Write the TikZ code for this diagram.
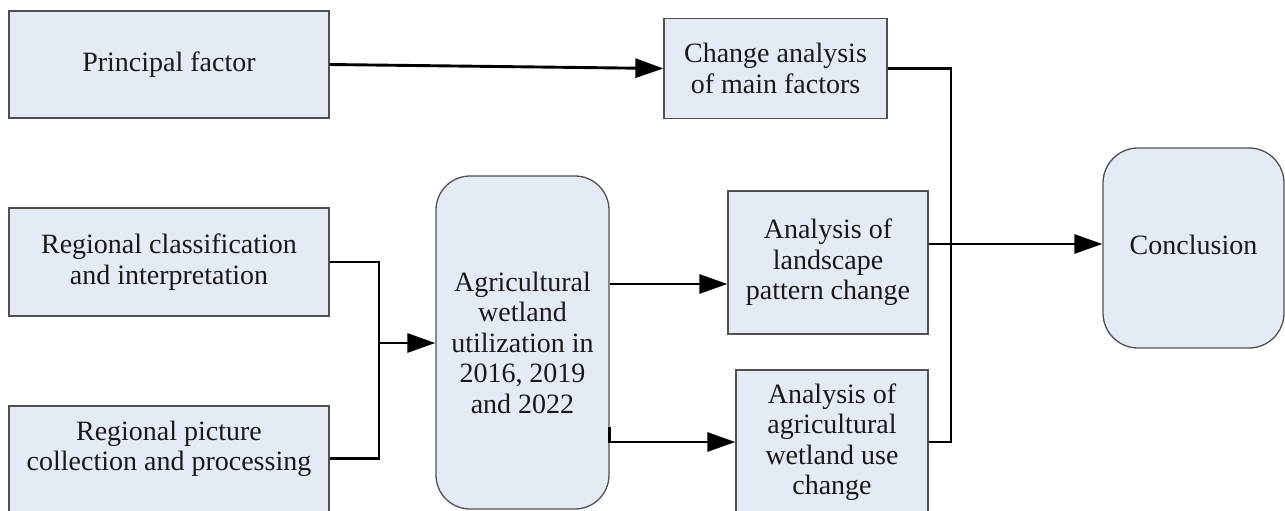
\documentclass[tikz,border=0pt]{standalone}
\usepackage{fontspec}
\setmainfont{Liberation Serif}
\usetikzlibrary{arrows.meta,calc}
\definecolor{boxfill}{RGB}{229,235,245}
\definecolor{boxline}{RGB}{80,80,80}
\definecolor{txt}{RGB}{25,25,25}
\begin{document}
\begin{tikzpicture}[x=1pt,y=-1pt,
  lbl/.style={align=center, inner sep=0pt, text=txt, font=\fontsize{28}{30.5}\selectfont},
  box/.style={lbl, draw=boxline, line width=1.3pt, fill=boxfill},
  rbox/.style={box, rounded corners=34pt},
  conn/.style={line width=2.9pt, draw=black},
  arr/.style={conn, -{Triangle[length=28pt,width=19pt]}}]
\useasboundingbox[fill=white] (0,0) rectangle (1285,511);

% boxes
\node[box, minimum width=320pt, minimum height=107pt] (principal) at (169,64.5) {Principal factor};
\node[box, minimum width=223pt, minimum height=100pt] (change) at (775.5,68.5) {Change analysis\\of main factors};
\node[box, minimum width=320pt, minimum height=108pt] (regclass) at (169,262) {Regional classification\\and interpretation};
\node[box, minimum width=320pt, minimum height=154pt] (regpic) at (169,483) {};
\node[lbl] (regpictext) at (169,449) {Regional picture\\collection and processing};
\node[rbox, minimum width=173pt, minimum height=333pt] (ag) at (522.5,342.5) {Agricultural\\wetland\\utilization in\\2016, 2019\\and 2022};
\node[box, minimum width=200pt, minimum height=143pt] (landscape) at (828,262.5) {Analysis of\\landscape\\pattern change};
\node[box, minimum width=192pt, minimum height=190pt] (landuse) at (832,465) {};
\node[lbl] (landusetext) at (832,442) {Analysis of\\agricultural\\wetland use\\change};
\node[rbox, rounded corners=35pt, minimum width=181pt, minimum height=200pt] (conclusion) at (1193.5,248) {};
\node[lbl] (conclusiontext) at (1193.5,245) {Conclusion};

% junctions
\coordinate (m) at (379,343);
\coordinate (J) at (951,244);

% connectors
\draw[arr] (principal.east) -- (change.west);
\draw[conn] (regclass.east) -| (m);
\draw[conn] ($(regpic.north east)+(0,53)$) -| (m);
\draw[arr] (m) -- (ag.west |- m);
\draw[arr] ($(ag.east)+(0,-58.5)$) -- (landscape.west |- 0,284);
\draw[arr] ($(ag.east)+(0,84.5)$) |- (landuse.west |- landusetext);
\draw[arr] ($(landscape.east)+(0,-18.5)$) -- (conclusion.west |- J);
\draw[conn] (change.east) -| (J);
\draw[conn] (landuse.east |- landusetext) -| (J);
\end{tikzpicture}
\end{document}
